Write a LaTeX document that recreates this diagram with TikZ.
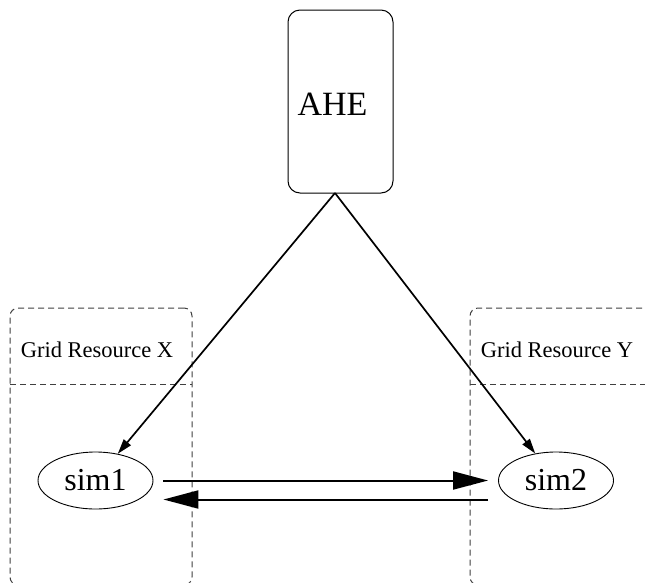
\documentclass[tikz,border=0pt]{standalone}
\usepackage{fontspec}
\setmainfont{Liberation Serif}
\usetikzlibrary{arrows.meta,shapes.geometric}
\tikzset{
  resbox/.style={draw=black!75, dash pattern=on 6pt off 4pt, line width=1pt, rounded corners=8pt, rectangle, inner sep=0pt},
  divider/.style={draw=black!75, dash pattern=on 6pt off 4pt, line width=1pt},
  ahebox/.style={draw, rectangle, rounded corners=12pt, line width=1pt, minimum width=105pt, minimum height=183pt, font=\fontsize{34}{40}\selectfont},
  simnode/.style={draw, ellipse, line width=0.9pt, minimum width=115pt, minimum height=57pt, inner sep=0pt, font=\fontsize{32}{38}\selectfont},
  reslabel/.style={font=\fontsize{22.5}{26}\selectfont},
  ctl/.style={line width=1.7pt, -{Triangle[length=15pt,width=9pt]}},
  msg/.style={line width=2pt, -{Triangle[length=35pt,width=18pt]}, shorten <=10pt, shorten >=10pt},
}
\begin{document}
\begin{tikzpicture}[x=1pt,y=-1pt]
\useasboundingbox (0,0) rectangle (645,582);
\clip (0,0) rectangle (645,582);
\fill[white] (0,0) rectangle (645,582);
% resource boxes
\node[resbox, minimum width=182pt, minimum height=277pt] (rx) at (101,446.5) {};
\node[resbox, minimum width=190pt, minimum height=277pt] (ry) at (565,446.5) {};
\coordinate (rxl) at (10,384);
\coordinate (rxr) at (192,384);
\coordinate (ryl) at (470,384);
\coordinate (ryr) at (660,384);
\draw[divider] (rxl) -- (rxr);
\draw[divider] (ryl) -- (ryr);
\node[reslabel] (lx) at (97,350) {Grid Resource X};
\node[reslabel] (ly) at (557,350) {Grid Resource Y};
% AHE
\node[ahebox] (ahe) at (340.5,101.5) {\hspace*{-16pt}\raisebox{-13.5pt}[0pt][0pt]{AHE}};
\coordinate (aheb) at (335,193);
% sims
\node[simnode] (sim1) at (95.5,480.5) {sim1};
\node[simnode] (sim2) at (556,480.5) {sim2};
% arrows
\draw[ctl] (aheb) -- (sim1);
\draw[ctl] (aheb) -- (sim2);
\draw[msg] (sim1.east) -- (sim2.west);
\draw[msg] ([yshift=-19pt]sim2.west) -- ([yshift=-19pt]sim1.east);
\end{tikzpicture}
\end{document}
